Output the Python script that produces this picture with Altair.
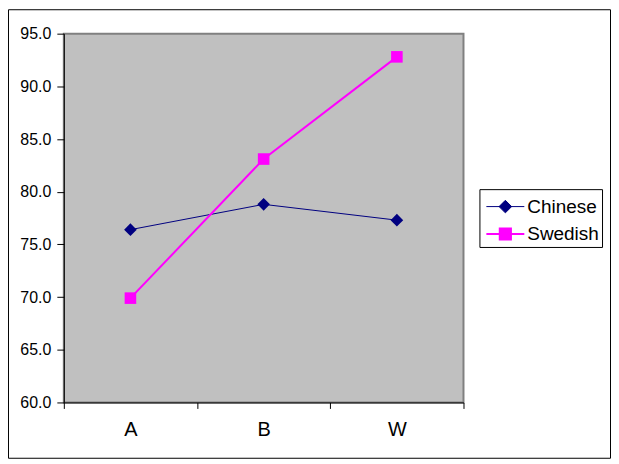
import altair as alt
import pandas as pd

categories = ["A", "B", "W"]
chinese = [76.4, 78.8, 77.3]
swedish = [69.9, 83.1, 92.8]
series_names = ["Chinese", "Swedish"]
series_colors = ["#000080", "#FF00FF"]
series_widths = [1, 2]
y_ticks = [60, 65, 70, 75, 80, 85, 90, 95]

df = pd.DataFrame({
    "cat": categories * 2,
    "value": chinese + swedish,
    "series": ["Chinese"] * 3 + ["Swedish"] * 3,
})

FONT = "Arial, Liberation Sans, sans-serif"

# legend symbols: a short line with the marker on it, like Excel
diamond_path = "M-1.36,0H1.36M0,-0.45L0.45,0L0,0.45L-0.45,0Z"
square_path = "M-1.36,0H1.36M-0.4,-0.4H0.4V0.4H-0.4Z"

legend = alt.Legend(
    title=None, orient="none", legendX=417, legendY=156,
    labelFont=FONT, labelFontSize=19, labelColor="black", labelOffset=7,
    labelExpr="datum.label + '\u00a0\u00a0'",
    symbolSize=784, symbolOffset=8, padding=3, symbolOpacity=1,
    strokeColor="black", fillColor="white",
)

series_scale = alt.Scale(domain=series_names, range=series_colors)
width_scale = alt.Scale(domain=series_names, range=series_widths)

x = alt.X("cat:N", title=None, sort=categories,
          scale=alt.Scale(paddingInner=0, paddingOuter=0),
          axis=alt.Axis(labelAngle=0, tickBand="extent", tickSize=6, labelPadding=11,
                        labelFont=FONT, labelFontSize=20, labelColor="black",
                        domainColor="black", tickColor="black", grid=False))
y = alt.Y("value:Q", title=None,
          scale=alt.Scale(domain=[60, 95], nice=False, zero=False),
          axis=alt.Axis(values=y_ticks, format=".1f", tickSize=7, labelPadding=6,
                        labelFont=FONT, labelFontSize=16, labelColor="black",
                        domainColor="black", tickColor="black", grid=False))

base = alt.Chart(df)

lines = base.mark_line().encode(
    x=x, y=y,
    stroke=alt.Stroke("series:N", scale=series_scale, legend=legend),
    strokeWidth=alt.StrokeWidth("series:N", scale=width_scale, legend=legend),
)

cn_points = base.transform_filter(alt.datum.series == "Chinese").mark_point(
    shape="diamond", filled=True, opacity=1, size=160
).encode(x=x, y=y, fill=alt.Fill("series:N", scale=series_scale, legend=legend))

sw_points = base.transform_filter(alt.datum.series == "Swedish").mark_point(
    shape="square", filled=True, opacity=1, size=135
).encode(x=x, y=y, fill=alt.Fill("series:N", scale=series_scale, legend=legend))

# a layer with no rows: it only carries the legend symbols
key = base.transform_filter("false").mark_point(filled=True, opacity=1).encode(
    x=x, y=y,
    fill=alt.Fill("series:N", scale=series_scale, legend=legend),
    stroke=alt.Stroke("series:N", scale=series_scale, legend=legend),
    shape=alt.Shape("series:N", scale=alt.Scale(domain=series_names, range=[diamond_path, square_path]),
                    legend=legend),
    strokeWidth=alt.StrokeWidth("series:N", scale=width_scale, legend=legend),
)

# outer chart frame
frame = alt.Chart(pd.DataFrame({"f": [0]})).mark_rect(fill=None, stroke="black", strokeWidth=1).encode(
    x=alt.value(-55.5), x2=alt.value(548.5), y=alt.value(-24), y2=alt.value(426)
)

chart = alt.layer(frame, lines, cn_points, sw_points, key).properties(
    width=401, height=370, padding=0, background="white"
).configure_view(
    fill="#C0C0C0", stroke="#808080", strokeWidth=2
)

chart.save("out.html", embed_options={"renderer": "svg", "actions": False})
